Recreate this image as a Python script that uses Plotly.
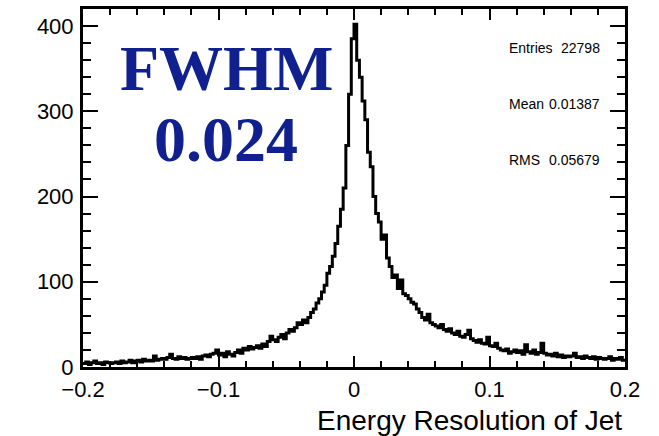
import plotly.graph_objects as go

# Histogram: 200 bins from -0.2 to 0.2
x_min = -0.2
x_max = 0.2
n_bins = 200

counts = [
    4, 6, 3, 5, 7, 4, 5, 3, 6, 5,
    4, 5, 6, 4, 7, 5, 6, 8, 5, 7,
    8, 6, 9, 7, 8, 7, 13, 8, 9, 10,
    9, 11, 15, 10, 9, 12, 10, 11, 9, 10,
    11, 10, 12, 9, 13, 14, 12, 15, 16, 20,
    14, 16, 12, 18, 15, 13, 17, 20, 16, 22,
    20, 24, 21, 23, 25, 22, 27, 24, 30, 36,
    32, 30, 35, 38, 33, 40, 44, 42, 46, 52,
    50, 55, 52, 58, 64, 68, 75, 80, 88, 96,
    110, 118, 130, 145, 165, 185, 210, 260, 320, 385,
    402, 360, 340, 312, 290, 252, 235, 200, 180, 170,
    150, 155, 128, 118, 105, 108, 92, 102, 86, 84,
    80, 76, 74, 68, 64, 58, 55, 62, 52, 50,
    48, 46, 50, 44, 42, 45, 40, 38, 42, 36,
    35, 38, 43, 33, 31, 29, 32, 28, 27, 35,
    25, 24, 28, 22, 20, 19, 21, 16, 18, 20,
    17, 19, 15, 26, 18, 16, 20, 15, 17, 28,
    16, 14, 15, 13, 16, 12, 14, 11, 13, 12,
    13, 16, 11, 12, 10, 13, 11, 10, 12, 9,
    11, 10, 9, 10, 12, 8, 10, 9, 11, 8,
]

stat_labels = ["Entries", "Mean", "RMS"]
stat_values = ["22798", "0.01387", "0.05679"]
fwhm_lines = ["FWHM", "0.024"]
x_title = "Energy Resolution of Jet"

bin_w = (x_max - x_min) / n_bins
edges = [x_min + i * bin_w for i in range(n_bins + 1)]
step_y = counts + [counts[-1]]

fig = go.Figure()
fig.add_trace(go.Scatter(
    x=edges, y=step_y, mode="lines", line=dict(color="black", width=3, shape="hv"),
    hoverinfo="skip", showlegend=False,
))

axis_common = dict(
    showline=True, linecolor="black", linewidth=3, mirror="allticks",
    ticks="inside", tickcolor="black", tickwidth=2,
    showgrid=False, zeroline=False,
    tickfont=dict(family="Liberation Sans, Arial, sans-serif", size=22, color="black"),
)

fig.update_xaxes(
    range=[x_min, x_max], tickvals=[-0.2, -0.1, 0, 0.1, 0.2],
    ticktext=["\u22120.2", "\u22120.1", "0", "0.1", "0.2"], ticklen=11,
    ticklabelstandoff=1,
    minor=dict(ticks="inside", dtick=0.02, tick0=0, ticklen=6, tickcolor="black", tickwidth=2),
    **axis_common,
)
fig.update_yaxes(
    range=[0, 420], tickvals=[0, 100, 200, 300, 400], ticklen=15,
    ticklabelstandoff=2,
    minor=dict(ticks="inside", dtick=20, tick0=0, ticklen=8, tickcolor="black", tickwidth=2),
    **axis_common,
)

# FWHM annotation
for txt, yp in zip(fwhm_lines, [66, 138]):
    fig.add_annotation(
        x=226, y=yp, text=f"<b>{txt}</b>", showarrow=False,
        font=dict(family="Liberation Serif, Times New Roman, serif", size=64, color="#10208f"),
        xanchor="center", yanchor="middle",
    )

# Stats box text
stat_ys = [45, 102, 158]
for lab, val, yp in zip(stat_labels, stat_values, stat_ys):
    fig.add_annotation(
        x=507, y=yp, text=lab, showarrow=False,
        font=dict(family="Liberation Sans, Arial, sans-serif", size=14, color="black"),
        xanchor="left", yanchor="middle",
    )
    fig.add_annotation(
        x=602, y=yp, text=val, showarrow=False,
        font=dict(family="Liberation Sans, Arial, sans-serif", size=14, color="black"),
        xanchor="right", yanchor="middle",
    )

# Axis title (right-aligned)
fig.add_annotation(
    x=624, y=421, text=x_title, showarrow=False,
    font=dict(family="Liberation Sans, Arial, sans-serif", size=28, color="black"),
    xanchor="right", yanchor="middle",
)

# convert pixel-based annotation positions to paper coordinates
L, R, T, B = 83, 625, 6, 367
W, H = 659, 436
for a in fig.layout.annotations:
    px, py = a.x, a.y
    a.xref = "paper"
    a.yref = "paper"
    a.x = (px - L) / (R - L)
    a.y = (B - py) / (B - T)

fig.update_layout(
    width=W, height=H,
    margin=dict(l=L, r=W - R, t=T, b=H - B),
    plot_bgcolor="white", paper_bgcolor="white",
)

fig.write_html(
    "out.html",
    config={"displayModeBar": False},
    post_script="document.body.style.margin='0';document.body.style.overflow='hidden';",
)
